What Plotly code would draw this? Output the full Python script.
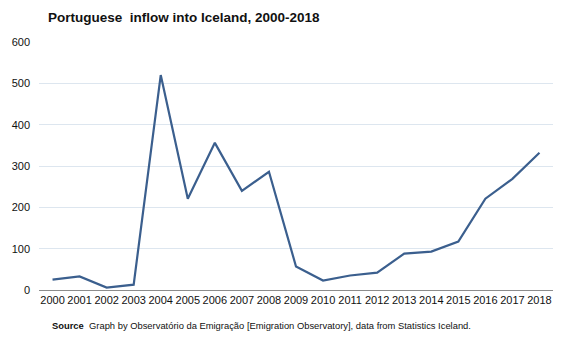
import plotly.graph_objects as go

years = [str(y) for y in range(2000, 2019)]
inflow = [25, 33, 6, 13, 520, 221, 356, 240, 286, 57, 23, 35, 42, 88, 93, 117, 221, 269, 332]
y_ticks = [0, 100, 200, 300, 400, 500, 600]

fig = go.Figure()
fig.add_trace(go.Scatter(
    x=years, y=inflow, mode="lines",
    line=dict(color="#3b5f8e", width=2.2),
    hoverinfo="x+y", showlegend=False,
))

fig.update_layout(
    width=571, height=339,
    margin=dict(l=35, r=18, t=42, b=48.5),
    paper_bgcolor="white", plot_bgcolor="white",
    font=dict(family="Liberation Sans, Arial, sans-serif", size=11, color="#111111"),
    title=dict(
        text="<b>Portuguese&nbsp; inflow into Iceland, 2000-2018</b>",
        x=48 / 571, xanchor="left", y=1 - 17 / 339, yanchor="middle",
        font=dict(size=13.5, color="#111111"),
    ),
    xaxis=dict(
        type="category", range=[-0.5, 18.5],
        showgrid=False, showline=True, linecolor="#8c8c8c", linewidth=1,
        ticks="", tickfont=dict(size=11), fixedrange=True,
    ),
    yaxis=dict(
        range=[0, 600], tickvals=y_ticks,
        showgrid=True, gridcolor="#dde6ef", gridwidth=1,
        zeroline=False, showline=False, ticks="",
        tickfont=dict(size=11), ticklabelstandoff=8, fixedrange=True,
    ),
    annotations=[dict(
        text="<b>Source</b>  Graph by Observatório da Emigração [Emigration Observatory], data from Statistics Iceland.",
        xref="paper", yref="paper", x=(46 - 35) / 518, y=-(326 - 290.5) / 248.5,
        xanchor="left", yanchor="middle", showarrow=False,
        font=dict(size=9.4, color="#111111"),
    )],
)

fig.write_html("out.html")
